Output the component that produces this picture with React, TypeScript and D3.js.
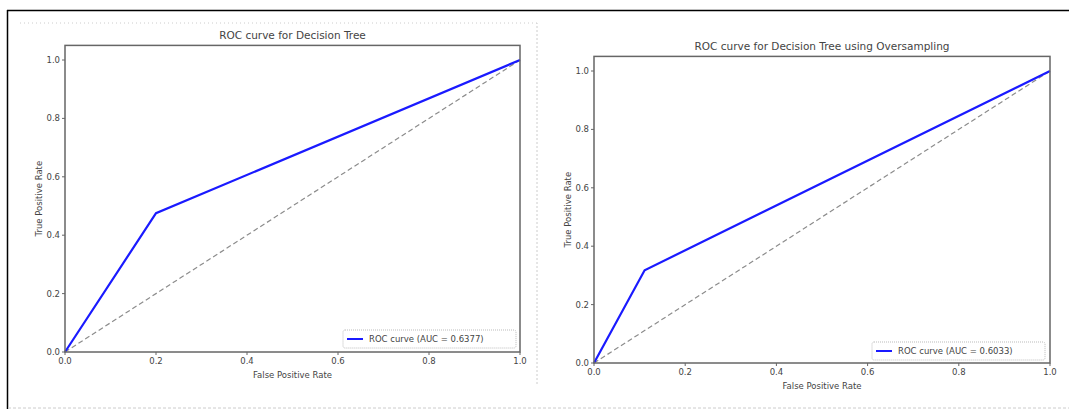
import React from 'react';
import * as d3 from 'd3';

// ROC points
const fprTree = [0, 0.2, 1];
const tprTree = [0, 0.4754, 1];
const fprOver = [0, 0.111, 1];
const tprOver = [0, 0.3176, 1];
const chanceLine = [0, 1];
const ticks = [0, 0.2, 0.4, 0.6, 0.8, 1.0];
const titles = ['ROC curve for Decision Tree', 'ROC curve for Decision Tree using Oversampling'];
const legendLabels = ['ROC curve (AUC = 0.6377)', 'ROC curve (AUC = 0.6033)'];

const FONT = 'DejaVu Sans, sans-serif';
const TEXT = '#444';

type PanelProps = {
  fpr: number[];
  tpr: number[];
  title: string;
  legend: string;
  left: number;
  right: number;
  bottom: number;
  legendBox: { x: number; y: number; w: number; h: number };
};

function Panel({ fpr, tpr, title, legend, left, right, bottom, legendBox }: PanelProps) {
  const x = d3.scaleLinear().domain([0, 1]).range([left, right]);
  const y = d3.scaleLinear().domain([0, 1.05]).range([bottom, bottom - 306.6]);
  const top = y(1.05);
  const line = d3.line<[number, number]>().x(d => x(d[0])).y(d => y(d[1]));
  const roc = fpr.map((f, i) => [f, tpr[i]] as [number, number]);
  const diag = chanceLine.map(v => [v, v] as [number, number]);
  const cx = (left + right) / 2;

  return (
    <g>
      <text x={cx} y={top - 6} textAnchor="middle" fontSize={10.5} fill={TEXT} fontFamily={FONT}>{title}</text>
      <path d={line(diag) || ''} fill="none" stroke="#8c8c8c" strokeWidth={1.2} strokeDasharray="5,3" />
      <path d={line(roc) || ''} fill="none" stroke="#1a1aff" strokeWidth={2.2} />
      <rect x={left} y={top} width={right - left} height={bottom - top} fill="none" stroke="#666" strokeWidth={1.5} />
      {ticks.map(t => (
        <g key={'x' + t}>
          <line x1={x(t)} x2={x(t)} y1={bottom} y2={bottom + 3} stroke="#666" />
          <text x={x(t)} y={bottom + 12} textAnchor="middle" fontSize={8.5} fill={TEXT} fontFamily={FONT}>{t.toFixed(1)}</text>
        </g>
      ))}
      {ticks.map(t => (
        <g key={'y' + t}>
          <line x1={left - 3} x2={left} y1={y(t)} y2={y(t)} stroke="#666" />
          <text x={left - 5} y={y(t) + 3} textAnchor="end" fontSize={8.5} fill={TEXT} fontFamily={FONT}>{t.toFixed(1)}</text>
        </g>
      ))}
      <text x={cx} y={bottom + 26} textAnchor="middle" fontSize={8.5} fill={TEXT} fontFamily={FONT}>False Positive Rate</text>
      <text transform={`translate(${left - 23},${(top + bottom) / 2}) rotate(-90)`} textAnchor="middle" fontSize={8.5} fill={TEXT} fontFamily={FONT}>True Positive Rate</text>
      <rect x={legendBox.x} y={legendBox.y} width={legendBox.w} height={legendBox.h} fill="#fff" stroke="#bbb" strokeDasharray="1,1" rx={2} />
      <line x1={legendBox.x + 4} x2={legendBox.x + 20} y1={legendBox.y + legendBox.h / 2} y2={legendBox.y + legendBox.h / 2} stroke="#1a1aff" strokeWidth={2} />
      <text x={legendBox.x + 26} y={legendBox.y + legendBox.h / 2 + 3} fontSize={8.5} fill={TEXT} fontFamily={FONT}>{legend}</text>
    </g>
  );
}

export default function App() {
  return (
    <svg width={1069} height={409} style={{ position: 'absolute', left: 0, top: 0, background: '#fff' }}>
      {/* outer frame */}
      <line x1={7} x2={1069} y1={10.5} y2={10.5} stroke="#000" strokeWidth={1.5} />
      <line x1={7.5} x2={7.5} y1={10} y2={409} stroke="#000" strokeWidth={1.5} />
      <line x1={8} x2={1069} y1={408} y2={408} stroke="#ccc" strokeDasharray="3,2" />
      {/* dotted image boundaries */}
      <path d="M20,23 H537 V383" fill="none" stroke="#ccc" strokeDasharray="1,3" />
      <path d="M537,23 V385" fill="none" stroke="#ccc" strokeDasharray="1,3" />
      <Panel fpr={fprTree} tpr={tprTree} title={titles[0]} legend={legendLabels[0]}
        left={65} right={520} bottom={352} legendBox={{ x: 343, y: 330, w: 173, h: 18 }} />
      <Panel fpr={fprOver} tpr={tprOver} title={titles[1]} legend={legendLabels[1]}
        left={594} right={1050} bottom={363} legendBox={{ x: 872, y: 342, w: 173, h: 18 }} />
    </svg>
  );
}
